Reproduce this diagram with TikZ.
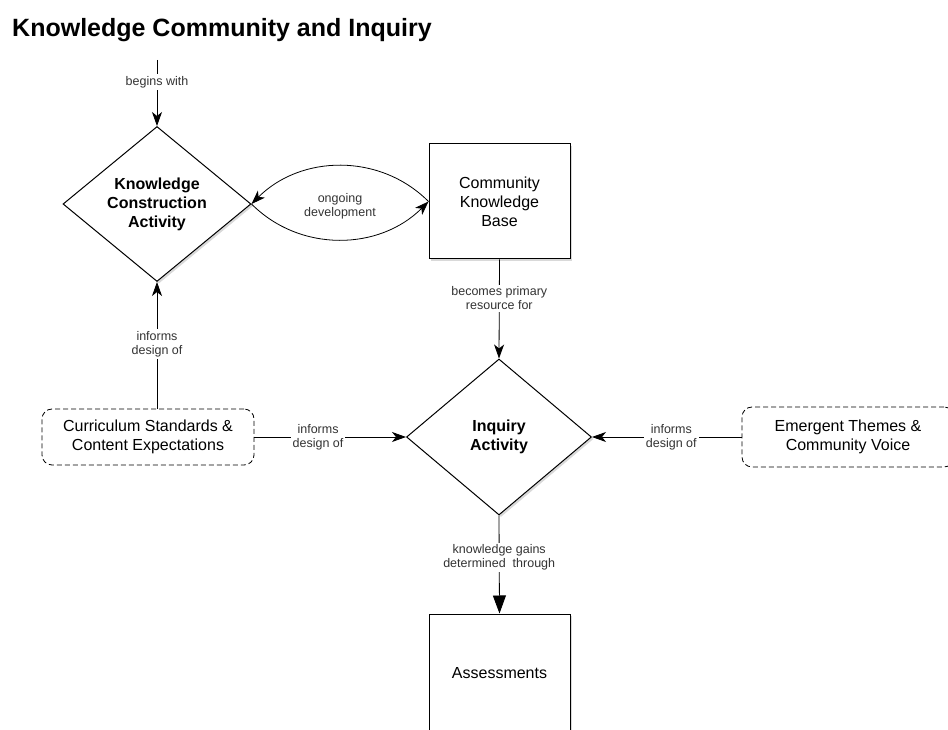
\documentclass[tikz,border=0pt]{standalone}
\usepackage{fontspec}
\setmainfont{Liberation Sans}
\usepackage{xcolor}
\usepackage{tikz}
\usetikzlibrary{shapes.geometric, arrows.meta, positioning, shadows}
\definecolor{labelgray}{HTML}{333333}
\tikzstyle{decision} = [diamond, minimum width=188pt, minimum height=155pt, inner sep=0pt, text centered, align=center, draw=black, line width=1pt, fill=white, font=\bfseries\fontsize{16}{19}\selectfont, drop shadow={shadow xshift=2pt, shadow yshift=-2pt, opacity=0.3}]
\tikzstyle{process} = [rectangle, minimum width=141pt, minimum height=115pt, text centered, align=center, draw=black, line width=1pt, fill=white, font=\fontsize{16}{19}\selectfont, drop shadow={shadow xshift=2pt, shadow yshift=-2pt, opacity=0.3}]
\tikzstyle{source} = [rectangle, rounded corners=10pt, minimum width=212pt, minimum height=56pt, text centered, align=center, draw=black, line width=0.8pt, dash pattern=on 5pt off 3pt, fill=white, font=\fontsize{16}{19}\selectfont]
\tikzstyle{arrow} = [line width=0.8pt, ->, >={Stealth[length=14pt, width=10pt, inset=4pt]}]
\tikzstyle{bigarrow} = [line width=0.8pt, -{Triangle[length=18pt, width=13pt]}]
\tikzstyle{edgelabel} = [fill=white, inner sep=2pt, align=center, text=labelgray, font=\fontsize{12.5}{14}\selectfont]

\begin{document}
\begin{tikzpicture}[x=1pt, y=1pt]
			\useasboundingbox (0,0) rectangle (948,729);
			\clip (0,0) rectangle (948,729);
			
			\node (title) [anchor=base west, inner sep=0pt, font=\bfseries\fontsize{25}{30}\selectfont] at (12,692) {Knowledge Community and Inquiry};
			
			\coordinate (begin) at (157,669);
			
			\node (construction) [decision] at (157,525) {Knowledge\\Construction\\Activity};
			
			\node (community_kb) [process] at (499.5,527.5) {Community\\Knowledge\\Base};
			
			\node (inquiry) [decision, minimum width=185pt, minimum height=156pt] at (499,292) {Inquiry\\Activity};
			
			\node (curriculum) [source] at (148,292) {Curriculum Standards \&\\Content Expectations};
			
			\node (emergent) [source, minimum height=60pt] at (848,292) {Emergent Themes \&\\Community Voice};
			
			\node (assessments) [process, minimum height=118pt] at (499.5,56) {Assessments};
			
			
			\draw [arrow] (begin) -- node[edgelabel, pos=0.33] {begins with} (construction.north);
			\draw [arrow] (community_kb.west) to[out=135, in=45] node[midway, below=25pt, edgelabel, fill=none] {ongoing\\development} (construction.east);
			\draw [arrow] (construction.east) to[out=-45, in=-135] (community_kb.west);
			\draw [arrow] (community_kb.south) -- node[edgelabel, pos=0.39] {becomes primary\\resource for} (inquiry.north);
			\draw [arrow] (curriculum.north -| construction.south) -- node[edgelabel, pos=0.51] {informs\\design of} (construction.south);
			\draw [arrow] (curriculum.east) -- node[edgelabel, pos=0.42] {informs\\design of} (inquiry.west);
			\draw [arrow] (emergent.west) -- node[edgelabel, pos=0.47] {informs\\design of} (inquiry.east);
			\draw [bigarrow] (inquiry.south) -- node[edgelabel, pos=0.43] {knowledge gains\\determined\ \ through} (assessments.north);
			
		\end{tikzpicture}
\end{document}
